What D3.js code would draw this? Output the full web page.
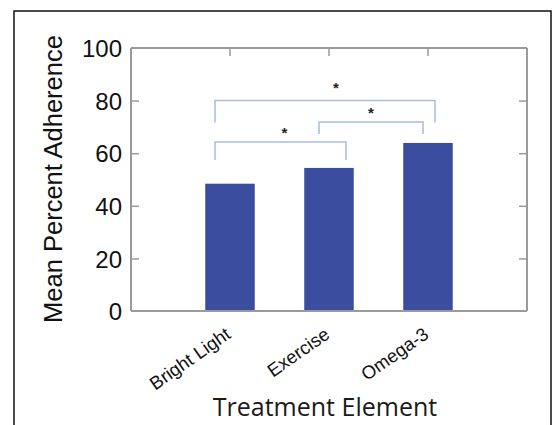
<!DOCTYPE html>
<html>
<head>
<meta charset="utf-8">
<script src="https://cdn.jsdelivr.net/npm/d3@7"></script>
<style>
  body { margin: 0; background: #fff; }
</style>
</head>
<body>
<div id="chart-area"></div>
<script>
// data
var treatments = ["Bright Light", "Exercise", "Omega-3"];
var adherence = [48.4, 54.4, 63.9];
var yTicks = [0, 20, 40, 60, 80, 100];
// significance brackets: from, to, level (percent)
var bracketFrom = ["Bright Light", "Bright Light", "Exercise"];
var bracketTo = ["Exercise", "Omega-3", "Omega-3"];
var bracketLevel = [64.3, 80, 71.9];

var W = 555, H = 425;
var svg = d3.select("#chart-area").append("svg")
            .attr("width", W)
            .attr("height", H);

// outer frame
svg.append("rect")
   .attr("x", 14).attr("y", 11)
   .attr("width", 537).attr("height", 440)
   .attr("fill", "none")
   .attr("stroke", "#111")
   .attr("stroke-width", 1.5);

var pLeft = 131, pRight = 527, pTop = 48, pBottom = 311;

var x = d3.scaleBand()
          .domain(treatments)
          .range([pLeft, pRight])
          .paddingInner(0.5)
          .paddingOuter(0.75);

var y = d3.scaleLinear()
          .domain([0, 100])
          .range([pBottom, pTop]);

var axisColor = "#9a9a9a";

// bars
svg.selectAll("rect.bar")
   .data(treatments)
   .enter()
   .append("rect")
     .attr("class", "bar")
     .attr("x", (d) => x(d))
     .attr("y", (d, i) => y(adherence[i]))
     .attr("width", x.bandwidth())
     .attr("height", (d, i) => pBottom - y(adherence[i]))
     .attr("fill", "#3a4d9f");

// box axes
var yLeft = svg.append("g")
    .attr("transform", "translate(" + pLeft + ",0)")
    .call(d3.axisLeft(y).tickValues(yTicks).tickSize(-8).tickPadding(9));
var yRight = svg.append("g")
    .attr("transform", "translate(" + pRight + ",0)")
    .call(d3.axisRight(y).tickValues(yTicks).tickSize(-8).tickFormat(""));
var xTop = svg.append("g")
    .attr("transform", "translate(0," + pTop + ")")
    .call(d3.axisTop(x).tickSize(-8).tickFormat(""));
var xBottom = svg.append("g")
    .attr("transform", "translate(0," + pBottom + ")")
    .call(d3.axisBottom(x).tickSize(0).tickFormat(""));

[yLeft, yRight, xTop, xBottom].forEach((g) => {
  g.select(".domain").attr("stroke", axisColor).attr("stroke-width", 2);
  g.selectAll(".tick line").attr("stroke", axisColor).attr("stroke-width", 1.5);
});
// no tick marks on the frame corners
yLeft.selectAll(".tick line").filter((d) => d === 0 || d === 100).remove();
yRight.selectAll(".tick line").filter((d) => d === 0 || d === 100).remove();
xBottom.select(".domain").attr("d", "M" + pLeft + ",0H" + pRight);
xTop.select(".domain").attr("d", "M" + pLeft + ",0H" + pRight);
yLeft.select(".domain").attr("d", "M0," + pTop + "V" + pBottom);
yRight.select(".domain").attr("d", "M0," + pTop + "V" + pBottom);

yLeft.selectAll(".tick text")
     .attr("font-family", "Liberation Sans, Arial, sans-serif")
     .attr("font-size", 24)
     .attr("fill", "#111")
     .attr("dy", "0.36em");

// category labels, slanted
svg.selectAll("text.cat")
   .data(treatments)
   .enter()
   .append("text")
     .attr("class", "cat")
     .attr("transform", (d) => "translate(" + (x(d) + x.bandwidth() / 2 + 2) + ",337) rotate(-35)")
     .attr("text-anchor", "end")
     .attr("font-family", "Liberation Sans, Arial, sans-serif")
     .attr("font-size", 18.5)
     .attr("fill", "#111")
     .text((d) => d);

// axis titles
svg.append("text")
   .attr("transform", "translate(62,179) rotate(-90)")
   .attr("text-anchor", "middle")
   .attr("font-family", "Liberation Sans, Arial, sans-serif")
   .attr("font-size", 25.5)
   .attr("fill", "#111")
   .text("Mean Percent Adherence");

svg.append("text")
   .attr("x", 325)
   .attr("y", 416)
   .attr("text-anchor", "middle")
   .attr("font-family", "Open Sans, sans-serif")
   .attr("font-size", 25)
   .attr("fill", "#1a1a1a")
   .text("Treatment Element");

// significance brackets
var bracketColor = "#a9bce6";
var legLen = [18, 22, 12];
var endOffsets = [[-15, 17], [-15, 7], [-10, -5]];
var starShift = [4, 11, 0];
var starGap = [10, 14, 10];

bracketLevel.forEach((lvl, i) => {
  var x1 = x(bracketFrom[i]) + x.bandwidth() / 2 + endOffsets[i][0];
  var x2 = x(bracketTo[i]) + x.bandwidth() / 2 + endOffsets[i][1];
  var yy = y(lvl);
  var yl = yy + legLen[i];
  svg.append("path")
     .attr("d", "M" + x1 + "," + yl + "V" + yy + "H" + x2 + "V" + yl)
     .attr("fill", "none")
     .attr("stroke", bracketColor)
     .attr("stroke-width", 1.5);
  svg.append("text")
     .attr("x", (x1 + x2) / 2 + starShift[i])
     .attr("y", yy - starGap[i] + 6)
     .attr("text-anchor", "middle")
     .attr("font-family", "Liberation Sans, Arial, sans-serif")
     .attr("font-size", 15)
     .attr("font-weight", "bold")
     .attr("fill", "#222")
     .text("*");
});
</script>
</body>
</html>
